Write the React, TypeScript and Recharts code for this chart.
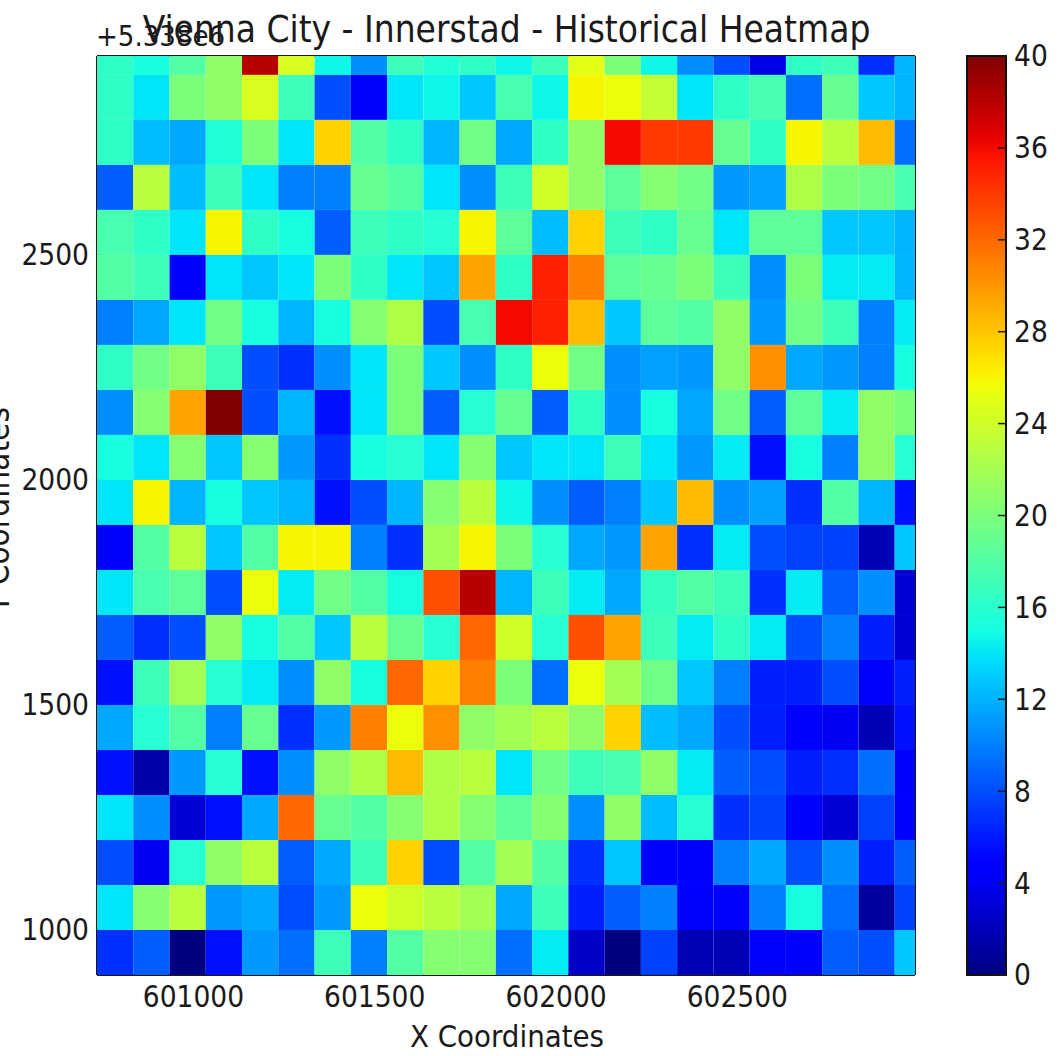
import { Bar, BarChart, Scatter, ScatterChart, XAxis, YAxis } from 'recharts';

// heatmap values, top row first (top row is cut off by the axis limit)
const row2900 = [16.3, 15.1, 18, 21, 38, 24.5, 14.7, 10.6, 17, 15.5, 16.3, 14.7, 17, 25, 20, 14.7, 10.6, 8.1, 3.5, 16.3, 17, 6.9, 12.1];
const row2800 = [16.3, 14, 20, 21, 24.5, 17, 8.1, 4.5, 14, 14.7, 12.8, 17.5, 14.7, 26, 25.5, 23.5, 14, 16.3, 17.5, 9.3, 19, 12.8, 12.1];
const row2700 = [16.3, 12.4, 11.6, 15.5, 20, 14, 27.5, 18, 16.3, 12.1, 19.5, 11.6, 16.3, 21, 36, 34, 34, 19, 16.3, 26, 23, 28.5, 9.3];
const row2600 = [8.7, 23, 12.4, 17, 14, 10, 10, 19, 18, 14, 10.6, 17, 24, 21, 18.5, 20.5, 19.5, 11, 11.3, 22.5, 20, 19.5, 17.5];
const row2500 = [17.5, 16.3, 14, 26, 16.3, 15.1, 8.7, 17, 16.3, 15.8, 26, 18.5, 12.4, 27.5, 17, 16.3, 19, 14, 18.5, 18.5, 12.8, 12.8, 12.1];
const row2400 = [18, 17, 4.5, 14, 12.8, 14, 20, 16.3, 14, 12.8, 29.5, 16.3, 35, 31, 18.5, 19, 20, 17, 10.6, 20, 14.2, 14.2, 12.1];
const row2300 = [10, 11.6, 14, 19.5, 15.1, 12.1, 15.1, 20.5, 22.5, 8.1, 17.5, 36, 35, 28.5, 12.8, 18.5, 18, 21, 11, 19.5, 17, 10, 14.2];
const row2200 = [16.3, 19.5, 21, 17, 8.1, 6.9, 10.6, 14, 20, 12.8, 10.6, 16.3, 25.5, 19.5, 10.6, 11.3, 11, 21, 30.3, 11.6, 11, 10, 15.1];
const row2100 = [10.6, 20.5, 29.5, 40, 8.1, 12.1, 5.6, 14, 20, 8.7, 15.8, 19, 8.7, 16.3, 10.6, 15.1, 11.6, 19.5, 8.7, 18.5, 14.2, 21, 20];
const row2000 = [15.1, 14, 20.5, 12.8, 20.5, 11, 6.9, 15.1, 15.8, 14, 20.5, 12.8, 14, 14, 17, 14, 11, 14.2, 5.6, 15.1, 10, 21, 15.8];
const row1900 = [14, 26, 12.1, 15.1, 12.8, 12.1, 5.6, 8.1, 12.1, 20.5, 23, 14.7, 10.6, 8.7, 10, 12.8, 28.5, 10.6, 11.3, 6.9, 18, 12.1, 5.6];
const row1800 = [4.5, 18, 23, 12.8, 18, 26, 26, 10, 6.9, 22, 26, 20, 15.8, 11.6, 11, 29.5, 6.9, 14.2, 8.1, 7.5, 7.5, 2, 12.8];
const row1700 = [14, 17.5, 18.5, 8.1, 25.5, 14.2, 19.5, 18, 15.1, 33, 38, 12.1, 17, 14.2, 11.6, 16.6, 18, 17, 6.9, 14.2, 8.7, 10.6, 3];
const row1600 = [8.7, 6.9, 8.1, 21, 15.1, 18, 12.8, 23, 19, 15.8, 32, 24, 15.8, 33, 29.5, 17, 14.2, 16.3, 14.2, 8.1, 10, 6.2, 3];
const row1500 = [5.6, 17, 22, 15.8, 14.2, 10.6, 21, 15.1, 32, 27.5, 31, 20, 9.3, 25.5, 22, 19.5, 12.8, 10, 6.2, 6.2, 8.1, 4.5, 6.2];
const row1400 = [11.6, 15.8, 18, 10, 19, 6.9, 11, 31, 25.5, 30.3, 21, 22, 23, 21, 27.5, 12.4, 11.6, 8.1, 6.2, 4.5, 4, 2, 5.6];
const row1300 = [5.6, 1.5, 11, 15.8, 5.6, 10.6, 21, 22.5, 28.5, 22.5, 23, 14, 19.5, 17, 17.5, 21, 14.2, 8.7, 8.1, 6.2, 6.9, 9.3, 4.5];
const row1200 = [14, 10.6, 3, 5.6, 11.6, 32, 19, 18, 20.5, 22.5, 20.5, 18.5, 20.5, 10.6, 21, 12.4, 15.8, 6.9, 7.5, 4.5, 3, 7.5, 4.5];
const row1100 = [8.1, 4, 15.8, 21, 23, 8.7, 11.6, 17, 27.5, 8.1, 18, 22, 18, 6.9, 12.8, 4.5, 4.5, 10, 11.6, 8.1, 10.6, 6.2, 8.7];
const row1000 = [14, 20.5, 23, 11, 11.6, 8.1, 11, 25.5, 24, 23, 22, 11.6, 17, 6.2, 8.7, 10, 4.5, 4.5, 10, 15.1, 9.3, 1, 7.5];
const row900 = [6.9, 8.7, 0, 5.6, 11, 9.3, 17, 10, 18, 20.5, 20.5, 9.3, 14.2, 2.5, 0, 7.5, 2, 2, 4.5, 4.5, 8.7, 8.1, 12.8];

const heatRows = [
  row2900, row2800, row2700, row2600, row2500, row2400, row2300, row2200, row2100, row2000, row1900,
  row1800, row1700, row1600, row1500, row1400, row1300, row1200, row1100, row1000, row900,
];
const yStarts = [2900, 2800, 2700, 2600, 2500, 2400, 2300, 2200, 2100, 2000, 1900, 1800, 1700, 1600, 1500, 1400, 1300, 1200, 1100, 1000, 900];
const xStarts = [
  600734, 600834, 600934, 601034, 601134, 601234, 601334, 601434, 601534, 601634, 601734, 601834,
  601934, 602034, 602134, 602234, 602334, 602434, 602534, 602634, 602734, 602834, 602934,
];

const xTicks = [601000, 601500, 602000, 602500];
const yTicks = [1000, 1500, 2000, 2500];
const colorTicks = [0, 4, 8, 12, 16, 20, 24, 28, 32, 36, 40];
const colorbarData = [{ name: 'scale', top: 40 }];

const X_DOMAIN: [number, number] = [600734, 602990];
const Y_DOMAIN: [number, number] = [900, 2942];
const BIN = 100;
const PLOT_W = 818;
const PLOT_H = 919;
const FONT = '"DejaVu Sans Condensed", "DejaVu Sans", sans-serif';
const INK = '#1a1a1a';

// matplotlib's jet colormap, t in 0..1
function jet(t: number) {
  const ramp = (pts: number[][]) => {
    for (let i = 1; i < pts.length; i++) {
      if (t <= pts[i][0]) {
        const [x0, y0] = pts[i - 1];
        const [x1, y1] = pts[i];
        return y0 + ((y1 - y0) * (t - x0)) / (x1 - x0);
      }
    }
    return pts[pts.length - 1][1];
  };
  const r = ramp([[0, 0], [0.35, 0], [0.66, 1], [0.89, 1], [1, 0.5]]);
  const g = ramp([[0, 0], [0.125, 0], [0.375, 1], [0.64, 1], [0.91, 0], [1, 0]]);
  const b = ramp([[0, 0.5], [0.11, 1], [0.34, 1], [0.65, 0], [1, 0]]);
  return `rgb(${Math.round(r * 255)},${Math.round(g * 255)},${Math.round(b * 255)})`;
}

const cells = heatRows.flatMap((row, r) =>
  row.map((value, c) => ({ x: xStarts[c] + BIN / 2, y: yStarts[r] + BIN / 2, value })),
);

const cellW = (PLOT_W * BIN) / (X_DOMAIN[1] - X_DOMAIN[0]);
const cellH = (PLOT_H * BIN) / (Y_DOMAIN[1] - Y_DOMAIN[0]);

function HeatCell(props: any) {
  const { cx, cy, payload } = props;
  return <rect x={cx - cellW / 2} y={cy - cellH / 2} width={cellW} height={cellH} fill={jet(payload.value / 40)} />;
}

const tickStyle = { fontSize: 29.5, fontFamily: FONT, fill: INK };
const lineStyle = { stroke: INK, strokeWidth: 2 };

export default function App() {
  return (
    <div style={{ position: 'absolute', left: 0, top: 0, width: 1060, height: 1056, background: '#fff', overflow: 'hidden' }}>
      <div style={{ position: 'absolute', left: 0, top: 0 }}>
        <ScatterChart width={927} height={1056} margin={{ top: 56, right: 12, bottom: 21, left: 37 }}>
          <Scatter data={cells} xAxisId="main" yAxisId="main" shape={HeatCell} isAnimationActive={false} />
          <XAxis
            xAxisId="main"
            type="number"
            dataKey="x"
            domain={X_DOMAIN}
            ticks={xTicks}
            allowDataOverflow
            height={60}
            tickSize={-8}
            tickMargin={19}
            tick={tickStyle}
            axisLine={lineStyle}
            tickLine={lineStyle}
          />
          <YAxis
            yAxisId="main"
            type="number"
            dataKey="y"
            domain={Y_DOMAIN}
            ticks={yTicks}
            allowDataOverflow
            width={60}
            tickSize={-8}
            tickMargin={16}
            tick={tickStyle}
            axisLine={lineStyle}
            tickLine={lineStyle}
          />
          <XAxis
            xAxisId="top"
            orientation="top"
            mirror
            type="number"
            domain={X_DOMAIN}
            ticks={xTicks}
            allowDataOverflow
            height={30}
            tickSize={8}
            tick={false}
            axisLine={lineStyle}
            tickLine={lineStyle}
          />
          <YAxis
            yAxisId="right"
            orientation="right"
            mirror
            type="number"
            domain={Y_DOMAIN}
            ticks={yTicks}
            allowDataOverflow
            width={30}
            tickSize={8}
            tick={false}
            axisLine={lineStyle}
            tickLine={lineStyle}
          />
          <text x={96} y={46} fontSize={29} fontFamily={FONT} fill={INK}>+5.338e6</text>
          <text x={506.5} y={42} fontSize={36.7} fontFamily={FONT} fill={INK} textAnchor="middle">
            Vienna City - Innerstad - Historical Heatmap
          </text>
          <text x={507} y={1047} fontSize={30.8} fontFamily={FONT} fill={INK} textAnchor="middle">X Coordinates</text>
          <text x={9} y={510} fontSize={33} fontFamily={FONT} fill={INK} textAnchor="middle" transform="rotate(-90 9 510)">
            Y Coordinates
          </text>
        </ScatterChart>
      </div>
      <div style={{ position: 'absolute', left: 927, top: 0 }}>
        <BarChart
          width={133}
          height={1056}
          data={colorbarData}
          barCategoryGap={0}
          margin={{ top: 56, right: 0, bottom: 81, left: 40 }}
        >
          <defs>
            <linearGradient id="jetRamp" x1="0" y1="1" x2="0" y2="0">
              {Array.from({ length: 65 }, (_, i) => (
                <stop key={i} offset={i / 64} stopColor={jet(i / 64)} />
              ))}
            </linearGradient>
          </defs>
          <XAxis dataKey="name" hide />
          <Bar dataKey="top" fill="url(#jetRamp)" stroke="#111" strokeWidth={2} isAnimationActive={false} />
          <YAxis
            orientation="right"
            type="number"
            domain={[0, 40]}
            ticks={colorTicks}
            width={54}
            tickSize={-8}
            tickMargin={16}
            tick={{ ...tickStyle, textAnchor: 'start' }}
            axisLine={false}
            tickLine={{ stroke: INK, strokeWidth: 1.5 }}
          />
        </BarChart>
      </div>
    </div>
  );
}
